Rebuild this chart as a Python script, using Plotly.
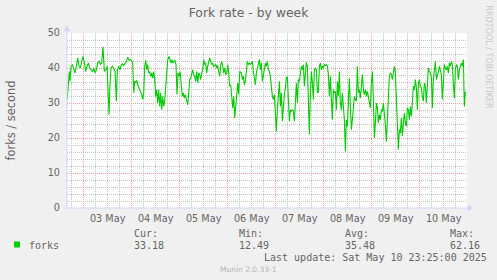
import pandas as pd
import plotly.graph_objects as go

# ---------------- data ----------------
base_time = "2025-05-02 12:00"
# sample times, hours after base_time
hours = [
    3.75, 4.35, 4.85, 5.18, 5.68, 6.35, 7.02, 7.68, 8.35, 9.02, 9.68, 10.35, 11.02, 11.68,
    12.35, 13.02, 13.68, 14.35, 15.02, 15.68, 16.35, 17.02, 17.68, 18.35, 19.02, 19.68,
    20.35, 21.02, 21.68, 22.35, 23.02, 23.68, 24.18, 24.68, 25.18, 25.68, 26.35, 27.02,
    27.68, 28.35, 28.85, 29.52, 30.18, 30.85,
    31.35, 32.02, 32.68, 33.35, 34.02, 34.68, 35.35, 36.02, 36.52, 37.02, 37.52, 38.02,
    38.52, 39.02, 39.68, 40.35, 41.02, 41.52, 42.02, 42.52, 43.02, 43.52, 44.02, 44.52,
    45.02, 45.52, 46.02, 46.52, 47.02, 47.52, 48.02, 48.52, 49.02, 49.52, 50.02, 50.52,
    51.02, 51.52, 52.02, 52.52, 53.02, 53.52, 54.02, 54.68, 55.18, 55.68, 56.18, 56.68,
    57.18, 57.68, 58.18, 58.68, 59.18, 59.68, 60.18, 60.68,
    61.35, 61.85, 62.35, 62.85, 63.35, 64.02, 64.52, 65.02, 65.52, 66.02, 66.52, 67.02,
    67.52, 68.02, 68.52, 69.02, 69.52, 70.02, 70.52, 71.02, 71.52, 72.02, 72.52, 73.02,
    73.52, 74.02, 74.52, 75.02, 75.52, 76.02, 76.52, 77.02, 77.52, 78.02, 78.52, 79.02,
    79.52, 80.02, 80.52, 81.02, 81.52, 82.02, 82.52, 83.02, 83.52, 84.02, 84.52, 85.02,
    85.52, 86.02, 86.52, 87.02, 87.52, 88.02, 88.52, 89.02, 89.52, 90.02,
    90.85, 91.35, 91.85, 92.35, 92.85, 93.35, 93.85, 94.35, 94.85, 95.35, 95.85, 96.35,
    96.85, 97.35, 97.85, 98.35, 98.85, 99.35, 99.85, 100.35, 100.85, 101.35, 101.85,
    102.35, 102.85, 103.35, 103.85, 104.35, 104.85, 105.35, 105.85, 106.35, 106.85,
    107.35, 107.85, 108.35, 108.85, 109.35, 109.85, 110.35, 110.85, 111.35, 111.85,
    112.35, 112.85, 113.35, 113.85, 114.35, 114.85, 115.35, 115.85, 116.35, 116.85,
    117.35, 117.85, 118.35, 118.85,
    119.35, 119.85, 120.35, 120.85, 121.35, 121.85, 122.35, 122.85, 123.35, 123.85,
    124.35, 124.85, 125.35, 125.85, 126.35, 126.85, 127.35, 127.85, 128.35, 128.85,
    129.35, 129.85, 130.35, 130.85, 131.35, 131.85, 132.35, 132.85, 133.35, 133.85,
    134.35, 134.85, 135.35, 135.85, 136.35, 136.85, 137.35, 137.85, 138.35, 138.85,
    139.35, 139.85, 140.35, 140.85, 141.35, 141.85, 142.35, 142.85, 143.35, 143.85,
    144.35, 144.85, 145.35, 145.85, 146.35, 146.85, 147.35, 147.85,
    148.35, 148.85, 149.35, 149.85, 150.35, 150.85, 151.35, 151.85, 152.35, 152.85,
    153.35, 153.85, 154.35, 154.85, 155.35, 155.85, 156.35, 156.85, 157.35, 157.85,
    158.35, 158.85, 159.35, 159.85, 160.35, 160.85, 161.35, 161.85, 162.35, 162.85,
    163.35, 163.85, 164.35, 164.85, 165.35, 165.85, 166.35, 166.85, 167.35, 167.85,
    168.35, 168.85, 169.35, 169.85, 170.35, 170.85, 171.35, 171.85, 172.35, 172.85,
    173.35, 173.85, 174.35, 174.85, 175.35, 175.85, 176.35, 176.85,
    177.35, 177.85, 178.35, 178.85, 179.35, 179.85, 180.35, 180.85, 181.35, 181.85,
    182.35, 182.85, 183.35, 183.85, 184.35, 184.85, 185.35, 185.85, 186.35, 186.85,
    187.35, 187.85, 188.35, 188.85, 189.35, 189.85, 190.35, 190.85, 191.35, 191.85,
    192.35, 192.85, 193.35, 193.85, 194.35, 194.85, 195.35, 195.85, 196.35, 196.85,
    197.35, 197.85, 198.35, 198.85, 199.35, 199.85, 200.35, 200.85, 201.35, 201.85,
    202.35, 202.85,
]
forks = [
    31.0, 36.7, 39.0, 36.2, 40.5, 41.0, 39.5, 38.6, 40.5, 42.9, 40.5, 40.0, 41.9, 43.3,
    41.4, 39.0, 40.5, 41.4, 40.0, 39.5, 39.0, 40.0, 38.6, 39.5, 41.4, 41.9,
    41.0, 41.4, 46.0, 39.0, 39.5, 40.5, 34.8, 26.7, 35.7, 40.0, 40.5, 40.0,
    39.0, 30.5, 39.5, 40.5, 39.5, 41.0,
    41.2, 40.7, 41.4, 41.9, 43.1, 42.2, 42.4, 41.9, 41.6, 32.9, 36.2, 35.7,
    36.5, 35.2, 34.3, 33.8, 32.4, 31.0, 32.9, 40.5, 42.2, 39.5, 41.0, 38.6,
    39.0, 37.6, 38.6, 37.1, 39.0, 36.7, 31.9, 33.8, 30.0, 33.8, 29.0, 32.9,
    28.1, 31.9, 29.0, 30.5, 34.8, 40.5, 42.4, 43.3, 41.9, 41.4, 42.4, 41.4,
    41.9, 42.2, 41.0, 32.4, 38.6, 37.6, 39.0, 35.7,
    31.9, 32.9, 31.4, 32.4, 31.0, 29.5, 32.9, 36.7, 37.1, 38.6, 39.5, 38.1,
    37.6, 36.2, 39.0, 35.7, 38.6, 38.1, 36.7, 38.6, 39.5, 42.4, 41.0, 41.4,
    38.6, 40.5, 41.9, 42.9, 41.9, 41.0, 41.4, 40.5, 40.7, 41.0, 40.0, 40.7,
    39.0, 37.6, 41.0, 41.9, 40.5, 38.6, 40.0, 38.1, 38.6, 41.0, 38.6, 34.8,
    35.2, 31.9, 28.6, 31.9, 25.7, 29.0, 33.8, 35.7, 32.4, 39.0,
    38.6, 36.7, 37.6, 35.2, 36.2, 39.0, 41.9, 41.0, 41.4, 41.0, 41.4, 41.9,
    39.0, 37.6, 35.2, 38.6, 40.0, 41.4, 42.4, 39.5, 41.4, 36.2, 37.6,
    39.5, 41.4, 40.5, 41.9, 39.5, 39.0, 37.6, 34.3, 31.9, 31.0,
    32.4, 27.1, 21.9, 28.1, 31.4, 36.2, 29.0, 32.9, 24.8, 30.0,
    32.4, 34.3, 37.1, 37.6, 31.0, 24.8, 28.1, 27.6, 28.1, 27.6,
    24.8, 30.0, 35.7, 30.0,
    36.7, 36.2, 39.5, 40.5, 39.5, 41.0, 34.8, 40.0, 41.6, 40.5,
    32.4, 21.0, 32.9, 39.0, 35.7, 31.0, 39.5, 40.0, 39.5, 33.3,
    32.9, 40.5, 41.4, 39.5, 40.5, 40.0, 41.0, 40.7, 41.0, 40.5,
    38.1, 31.9, 37.6, 29.0, 25.2, 33.8, 32.9, 33.3, 28.1, 36.2,
    31.9, 39.0, 30.0, 28.1, 32.9, 29.0, 25.2, 16.2, 25.2, 23.3,
    29.0, 37.1, 29.0, 22.4, 25.2, 28.6, 31.9, 31.0,
    30.5, 40.5, 32.9, 33.8, 31.4, 34.8, 38.1, 33.8, 32.4, 33.8,
    31.9, 33.3, 31.9, 31.0, 28.6, 35.7, 39.0, 31.0, 20.0, 24.3,
    30.0, 28.6, 24.3, 26.7, 25.2, 28.1, 27.6, 30.0, 27.1, 23.8,
    19.0, 25.2, 31.4, 37.6, 38.6, 38.1, 36.7, 39.0, 40.5, 38.6,
    29.5, 23.8, 16.7, 22.4, 21.4, 25.7, 20.5, 24.3, 27.1, 24.3,
    23.3, 28.6, 28.1, 25.2, 29.0, 26.2, 30.0, 34.8,
    33.8, 36.7, 34.3, 28.1, 35.7, 36.7, 34.8, 34.3, 31.9, 30.5,
    35.7, 34.8, 30.0, 35.7, 40.0, 39.0, 38.6, 37.6, 28.6, 36.7,
    40.5, 41.9, 36.7, 37.6, 39.0, 40.5, 38.6, 38.1, 31.0, 37.6,
    41.0, 40.0, 39.5, 40.5, 38.6, 41.4, 40.5, 41.9, 41.0, 35.2,
    31.4, 39.5, 41.0, 40.5, 36.7, 39.5, 41.0, 41.4, 40.5, 42.4,
    29.0, 33.3,
]
x_range = ["2025-05-02 15:40", "2025-05-10 23:40"]
y_ticks = [0, 10, 20, 30, 40, 50]
series_name = "forks"
legend_headers = ["Cur:", "Min:", "Avg:", "Max:"]
legend_values = ["33.18", "12.49", "35.48", "62.16"]
last_update = "Last update: Sat May 10 23:25:00 2025"
title_text = "Fork rate - by week"
y_title = "forks / second"
watermark = "RRDTOOL / TOBI OETIKER"
version_text = "Munin 2.0.33-1"

times = pd.to_datetime(base_time) + pd.to_timedelta(hours, unit="h")

# ---------------- layout helpers ----------------
W, H = 497, 280
L, R, T, B = 67, 30, 33, 72
PW, PH = W - L - R, H - T - B


def px(x):
    return (x - L) / PW


def py(y):
    return (H - B - y) / PH


FONT = "DejaVu Sans"
MONO = "DejaVu Sans Mono"
TXT = "#666666"
GREEN = "#00CC00"
AXIS = "#CFD6F8"
MINOR = "#c4c4c4"
MAJOR = "#f0a0a0"

fig = go.Figure()
fig.add_trace(go.Scatter(x=times, y=forks, mode="lines", name=series_name,
                         line=dict(color=GREEN, width=1.1), hoverinfo="x+y"))

annotations = []


def txt(x, y, s, size=10, family=MONO, color=TXT, xanchor="left", angle=0):
    annotations.append(dict(x=px(x), y=py(y), xref="paper", yref="paper", text=s,
                            showarrow=False, xanchor=xanchor, yanchor="middle",
                            textangle=angle,
                            font=dict(family=family, size=size, color=color)))


# legend block
txt(26.5, 245, series_name)
for hx, head, val in zip([132, 237, 343, 448], legend_headers, legend_values):
    txt(hx, 233, head)
    txt(hx, 245, val)
txt(261.5, 257.5, last_update)
txt(248, 269.5, version_text, size=7.5, family=FONT, color="#b4b4b4", xanchor="center")
txt(488, 56.5, watermark, size=8, family=FONT, color="#c8c8c8", xanchor="center", angle=90)

shapes = [
    # legend colour swatch
    dict(type="rect", xref="paper", yref="paper", x0=px(14), x1=px(20), y0=py(247.5), y1=py(241.5),
         fillcolor=GREEN, line=dict(width=0)),
    # axis lines
    dict(type="line", xref="paper", yref="paper", x0=0, x1=0, y0=0, y1=py(30),
         line=dict(color=AXIS, width=1), layer="above"),
    dict(type="line", xref="paper", yref="paper", x0=px(63), x1=px(469), y0=0, y1=0,
         line=dict(color=AXIS, width=1), layer="above"),
    # arrows
    dict(type="path", xref="paper", yref="paper",
         path=f"M {px(64)},{py(31)} L {px(70)},{py(31)} L {px(67)},{py(26)} Z",
         fillcolor=AXIS, line=dict(color=AXIS, width=0.5), layer="above"),
    dict(type="path", xref="paper", yref="paper",
         path=f"M {px(468)},{py(205)} L {px(468)},{py(211)} L {px(473)},{py(208)} Z",
         fillcolor=AXIS, line=dict(color=AXIS, width=0.5), layer="above"),
]

fig.update_layout(
    width=W, height=H,
    margin=dict(l=L, r=R, t=T, b=B, pad=0),
    paper_bgcolor="#F0F0F0", plot_bgcolor="#FFFFFF",
    showlegend=False,
    title=dict(text=title_text, x=0.5, xref="container", xanchor="center",
               y=1 - 13 / H, yref="container", yanchor="middle",
               font=dict(family=FONT, size=12.4, color=TXT)),
    xaxis=dict(type="date", range=x_range, tickmode="linear", tick0="2025-05-03",
               dtick=86400000, ticklabelmode="period", tickformat="%d %b",
               showgrid=True, gridcolor=MAJOR, griddash="1px,1px", gridwidth=1,
               minor=dict(dtick=6 * 3600000, tick0="2025-05-03", showgrid=True,
                          gridcolor=MINOR, griddash="1px,1px", gridwidth=1),
               ticks="", zeroline=False, showline=False, fixedrange=True,
               ticklabelstandoff=3,
               tickfont=dict(family=FONT, size=9.7, color=TXT)),
    yaxis=dict(range=[0, 50], tickmode="array", tickvals=y_ticks,
               showgrid=True, gridcolor=MAJOR, griddash="1px,1px", gridwidth=1,
               minor=dict(dtick=2, showgrid=True, gridcolor=MINOR, griddash="1px,1px", gridwidth=1),
               ticks="", zeroline=False, showline=False, ticklabelstandoff=6,
               tickfont=dict(family=FONT, size=9.7, color=TXT),
               title=dict(text=y_title, standoff=29, font=dict(family=FONT, size=11.4, color=TXT))),
    annotations=annotations,
    shapes=shapes,
)

fig.write_html("out.html")
